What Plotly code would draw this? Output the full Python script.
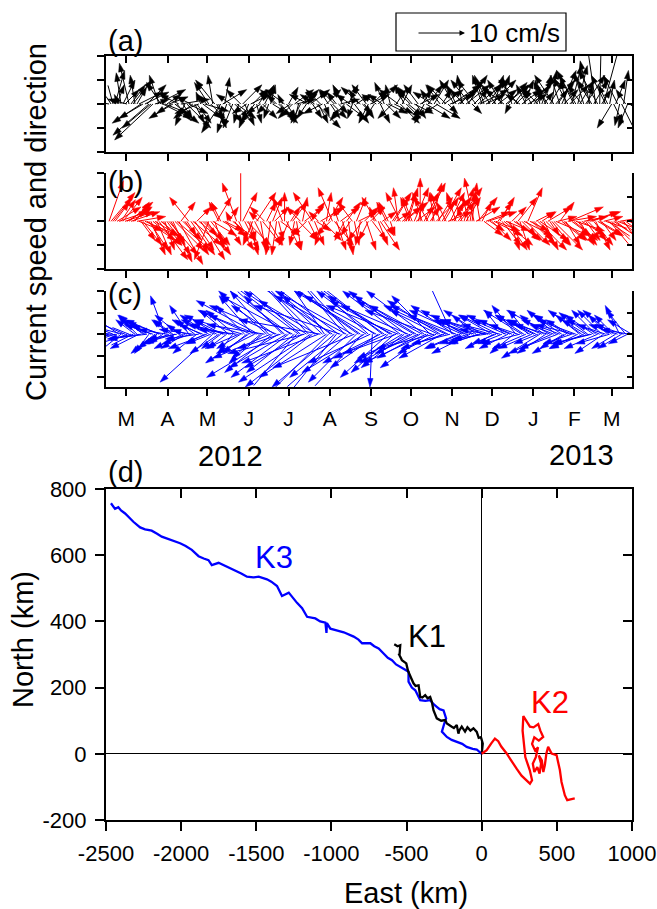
import datetime as dt
import plotly.graph_objects as go

W, H = 657, 909
FONT = "Liberation Sans, Arial, sans-serif"

# ------------------------------------------------------------------ data
MONTH_LABELS = ["M", "A", "M", "J", "J", "A", "S", "O", "N", "D", "J", "F", "M"]
MONTH_STARTS = [(2012, 3), (2012, 4), (2012, 5), (2012, 6), (2012, 7), (2012, 8),
                (2012, 9), (2012, 10), (2012, 11), (2012, 12), (2013, 1), (2013, 2),
                (2013, 3)]
YEAR_LABELS = ["2012", "2013"]
SERIES_START = dt.date(2012, 2, 17)   # first stick
STEP_DAYS = 3                          # main sticks every 3 days,
MID_OFFSET = 1.5                       # "_MID" sticks half-way between them

# K1 (a) velocity components, cm/s
K1_U = [-3, -1.5, 1.5, -1, 3,
        -2, 4, 2, -6, 5, -7.5, -8, 6, -3, 5,
        4, -5, 3, 6, -2, 4, -4, 3, -1, 5,
        -3, -1, 2, -4, 1, 3, -2, 4, -3, 2,
        -2, 3, 1, -3, 2, -1, 4, -2, 3, -4,
        2, -3, 4, -2, 3, -4, 2, 5, -3, 1, -2,
        3, -2, 4, -3, 2, -1, 3, -4, 2, -2,
        3, -3, 2, -2, 4, -3, 2, 4, -2, 3,
        -3, 2, 4, -2, 3, -4, 5, -3, 4, 2,
        6, -2, 5, -3, 4, 2, -4, 6, -2, 3,
        5, -3, 2, -4, 4, -2, 3, -3, 2, 4,
        -2, 3, -1, 2, -3, 1, 4, -2, 3, -3, 2,
        -4, 3, -2, 1, -3, -2.3, 0.4, 4.2, -2,
        -3, 2, -1, 1, -2, 3]
K1_V = [0.5, 5.5, 4, 6.5, 3,
        8.5, 5, 3.5, -4, 2.5, -6.5, -7.5, 3, 4.5, -2,
        1.5, -3, -3.5, 1, -4.5, -2, -3, -4, 2.5, -1.5,
        4.5, 6, -5, -6, 5.5, -4, -5, -3, 3, -4.5,
        -5, 3, -4, -2, 4, -3, -2.5, 2, -3.5, 3,
        3.5, -3, 1, -4, 3, 2, -3, -5, 3, -2.5, 3,
        -3, 2.5, 1, -3.5, 4, -3, 2, 3.5, -3, -4,
        3, 2, -4, 4.5, -2, -3, 3, -4, 4, -2.5,
        3.5, -3, 2, -4, 4, 2.5, -3, 4, 3, -2,
        4, 4, 5, 3, 6, -2, 5, 3, 6, 4.5,
        5, 4, 6, 3, 4.5, 5.5, 3, 2, 5, 2,
        3, 4, 5, 2.5, 4.5, 7, 5, 6, 3, 5.5, 8,
        7, 5, 6.5, 4, 5, 15.8, 16.8, 15.4, 4,
        -5, 5, -4.5, 7, -5, 0]
K1_U_MID = [-2, 2, -1, 2.5, -4,
            3, -1, 5, -5, 4, -6, 3, -2, 6, 3,
            -3, 5, -4, 2, 5, -3, 2, -5, 4, -2,
            3, -4, 1, 5, -2, -3, 3, -1, 4, -3,
            4, -3, 2, 3, -2, 1, -3, 4, -1, 2,
            -3, 4, -1, 3, -2, 4, -3, 2, -4, 3, 2,
            -3, 2, -2, 4, -3, 3, -2, 2, -3, 4,
            -2, 4, -3, 3, -1, 4, -4, 2, 3, -3,
            4, -3, 2, 5, -2, 3, -3, 2, -4, 5,
            -3, 4, -1, 5, -4, 3, 5, -2, 4, -3,
            2, 4, -3, 5, -1, 3, -4, 4, -2, 3,
            4, -3, 2, -2, 3, -4, 2, 3, -1, 4, -3,
            2, -3, 4, -2, 3, -4, 2, -3, 1,
            2, -3, 3, -2, 4]
K1_V_MID = [3, 7, 2, 5, 1,
            4, 6, 2.5, -3, 4, -5, 1, 6, -3, 2,
            -2, -4, 2, -3, -5, 1.5, -4, -2, -3, 2,
            -3, 5, -4, 3, -6, 2, -3, -4, 4, -2,
            2, -4, 3, -3, -2, 4, 3, -4, 2, -3,
            -2, 3, -4, 2, -3, 3, 2, -4, -2, 3, -3,
            3, -2, 4, -3, 2, -4, 3, -2, 4, 2,
            -3, 4, 2, -3, 4, -2, 3, 4, -3, 3,
            -2, 4, 3, -3, 3, 5, -2, 3, 4, 2,
            5, 3, 6, 4, 5, 3, 4, 6, 2, 5,
            6, 3, 5, 4, -2, 4, 5, 3, 4, 3,
            5, 3, 6, 4, 5, 6, 3, 7, 5, 4, 6,
            8, 4, 6, 9, 5, 7, 3, 6, 5,
            -4, 6, -6, 3, -3]

# K2 (b)
K2_U = [3, 4, 5, 3, 6,
        5, 4, 6, 3, 7, 4, 6, 3, 5, 2,
        6, 4, 7, 3, 5, -4, 6, 3, 5, 4,
        -3, 5, 3, -2, 4, 2, 5, -3, 0, 3,
        2, -2, 4, 1, -3, 3, 2, -1, 4, 0,
        -2, 3, 1, -3, 4, 2, -4, 3, 5, -2, 3,
        -3, 2, 4, -2, 1, -3, 2, -1, 3, -2,
        3, -3, 4, 2, -2, 4, 3, -3, 5, 2,
        -2, 4, 0, 3, -3, 2, 4, -2, 3, 5,
        4, -2, 3, 2, -1, 1, 5, -1, 4, 6,
        4, 5, 3, 6, 4, 3, 5, 2, 6, 3,
        5, 4, 6, 3, 5, 4, 7, 3, 5, 6, 4,
        6, 3, 5, 4, 6, 3, 5, 4, 6,
        5, 4, 6, 5, 7, 8]
K2_V = [8.5, 5, 3, 4.5, 2,
        4, 3, 1, -4, -3, -6, -5, -7, -4, -6,
        -7, -8.5, -6, 4, -7, 5, -5, 3, -8, -4,
        -8, -3, 5, 4, -2, 3, -4, 8, 12, -6,
        -7, -5, 6, -6, 3, -5, 5, -7, -3, 6,
        -5, 4, -6, 3, 3, -4, 6, -2, 3, -5, 5,
        7, -6, 3, -4, -7, 4, 5, -5, 3, -4,
        -4, 5, -6, -3, 4, 6, 2, 6, 4, 7,
        5, 3, 9, 6, 5, 8, 4, 6, 5, 2,
        5, 6, 4, 7, 5, 8, 3, 6, -3, 2,
        -4, -2, 5, -5, -6, 3, -4, -6, -3, 7,
        -5, 2, -4, -6, 3, -5, -3, 4, -4, 1, -3,
        -2, -5, 1, -4, 2, -6, -3, 1, -4,
        -5, -3, 1, -7, 0.5, -5]
K2_U_MID = [5, 3, 6, 4, 5,
            6, 3, 5, 4, 6, 3, 5, 6, 4, 5,
            3, 6, 5, 4, 2, 5, 4, 6, 3, 5,
            4, 2, -2, 5, 3, -1, 4, 2, 3, 5,
            1, 3, -2, 4, 2, -1, 3, 1, -2, 3,
            2, -1, 4, 1, -3, 3, 2, -2, 4, 1, -3,
            4, -1, 2, 3, -2, 1, 4, -3, 2, 3,
            -1, 2, 3, -2, 1, 3, -1, 4, 2, -2,
            3, 1, -2, 4, 2, -1, 3, 4, -2, 3,
            2, 5, -1, 3, 1, -2, 4, 2, 5, 3,
            6, 3, 4, 5, 2, 6, 4, 3, 5, 4,
            4, 6, 3, 5, 2, 6, 4, 5, 3, 7, 5,
            4, 5, 3, 6, 4, 5, 3, 6, 5,
            6, 5, 7, 4, 6]
K2_V_MID = [6, 4, 2, 5, 3,
            2, 4, -2, -5, -4, -7, -3, -8, -5, -7,
            -5, -6, -9, -4, -3, -7, -6, -5, -3, -7,
            -5, -6, 4, -3, -5, 2, -6, -4, 6, -5,
            -4, -6, 2, -5, 4, -7, 3, -4, 5, -6,
            3, -5, -4, 5, -3, 4, -5, 2, -4, 6, -3,
            -5, 3, -6, 4, -3, -5, 2, -4, -6, 3,
            3, -5, 2, 4, -3, 5, 7, 3, 6, 5,
            7, 4, 6, 8, 3, 6, 5, 7, 4, 6,
            4, 7, 3, 5, 6, 9, 5, 4, 2, -2,
            -3, 4, -5, -2, -6, -4, 5, -3, -5, -2,
            -4, -6, 2, -5, -3, -6, 1, -4, -5, 3, -4,
            -5, -3, -4, 2, -5, -3, -4, -2, -6,
            -4, -2, -6, -3, -4]

# K3 (c)
K3_U = [-10, -6, -8, -5, -7,
        -5, -6, -4, -7, -5, -3, -6, -4, -7, -3,
        -5, -4, -6, -3, -5, -4, -7, -5, -6, -4,
        -6, -11, -5, -4, -7, -6, -3, -8, -5, -6,
        -9, -7, -10, -6, -12, -8, -10, -14, -9, -11,
        -12, -15, -10, -13, -16, -11, -14, -12, -17, -9, -13,
        -15, -12, -18, -11, -14, -16, -10, -17, -13, -12,
        -0.5, -15, -12, -14, -10, -13, -11, -12, -9, -14,
        -11, -13, -9, -12, -10, -14, -8, -11, -9, -12,
        -5, -10, -7, -9, -6, -8, -5, -7, -9, -6,
        -7, -5, -8, -4, -6, -7, -5, -8, -6, -4,
        -7, -6, -8, -5, -7, -9, -6, -8, -5, -7, -6,
        -8, -5, -7, -6, -8, -5, -7, -6, -4,
        -6, -5, -3, -6, -4, -5]
K3_V = [-2, 2.5, -1, -4, 3,
        2, -3, 4, -1, 3, -4, 2, -3, 2.5, 8,
        -2, 3, -1, 2, -3, 6, 1, -4, 3, -2,
        4, -10, 3, -3, 2, 5, -4, 1, -3, 6,
        -6, 8, 4, -5, 2, 9, -8, 6, -3, 10,
        -9, 8, -12, 11, -4, 12, -11, 7, 3, 13, -13,
        10, -15, 6, 13, -12, 9, -10, 12, -8, 11,
        -11, 8, -6, 10, -9, 7, -4, 9, -7, 6,
        -6, 8, -5, 9, -7, 5, -4, 7, -3, 6,
        11, 4, -3, 5, -2, 3, 4, -2, 3, 1,
        4, -2, 2, 5, -3, 3, 6, -2, 4, 5,
        -3, 3, -5, 4, 2, -4, 5, 3, -3, 4, -2,
        3, 4, -3, 4.5, -2, 5, 3, -4, 4,
        5, -3, 6, 2, -2, 3]
K3_U_MID = [-7, -9, -6, -8, -5,
            -7, -4, -6, -5, -8, -4, -5, -7, -3, -6,
            -4, -7, -5, -6, -3, -6, -4, -7, -5, -8,
            -5, -7, -6, -8, -4, -9, -6, -7, -10, -5,
            -11, -8, -13, -7, -10, -12, -9, -15, -8, -12,
            -14, -10, -16, -12, -13, -15, -11, -16, -13, -14, -10,
            -13, -16, -11, -15, -12, -17, -14, -11, -15, -13,
            -12, -10, -14, -11, -13, -9, -15, -10, -12, -11,
            -12, -9, -11, -13, -8, -12, -10, -9, -13, -8,
            -9, -7, -11, -6, -8, -9, -6, -8, -7, -10,
            -6, -8, -5, -7, -9, -5, -6, -8, -7, -5,
            -8, -5, -7, -6, -9, -5, -8, -6, -7, -5, -8,
            -6, -7, -5, -8, -6, -7, -5, -6, -7,
            -4, -6, -5, -4, -6]
K3_V_MID = [1, -3, 4, 2, -2,
            -2, 3, -3, 4, -1, 2, -4, 3, -2, 1,
            3, -2, 4, -3, 1, -2, 3, -1, 2, -3,
            -2, 3, -4, 4, -3, 2, 5, -3, 3, -4,
            5, -4, 7, -6, 9, -5, 6, -9, 8, -7,
            10, -8, 12, -7, 9, -10, 11, -6, 12, -9, 8,
            -11, 12, -9, 8, 13, -7, 10, -12, 9, -6,
            9, -7, 11, -5, 8, -8, 6, -6, 9, -5,
            7, -4, 6, -6, 8, -3, 5, -5, 6, -2,
            6, -3, 5, 3, -4, 4, -2, 5, -1, 3,
            -3, 4, -2, 3, 4, -4, 2, 5, -3, 3,
            4, -2, 3, -4, 5, 2, -3, 4, -4, 3, 2,
            -3, 5, 3, -2, 4, -3, 5, 2, -2,
            4, 2, -3, 5, 1]

# progressive vector diagrams (km)
K1_EAST = [0, 7, -5, -20, -33, -55, -75, -95, -111, -125,
           -133, -150, -155, -166, -185, -199, -215, -232, -243, -270,
           -299, -310, -321, -332, -343, -360, -376, -395, -409, -420,
           -440, -454, -476, -490, -502, -520, -531, -553, -547, -542,
           -560, -582]
K1_NORTH = [0, 31, 50, 48, 66, 77, 70, 80, 67, 78,
            82, 70, 61, 87, 78, 82, 88, 92, 102, 100,
            107, 120, 132, 157, 172, 168, 177, 170, 172, 207,
            205, 213, 233, 250, 273, 278, 283, 303, 298, 328,
            325, 331]
K2_EAST = [0, 33, 66, 88, 110, 130, 166, 199, 232, 265,
           299, 321, 335, 320, 290, 280, 272, 277, 300, 321,
           345, 376, 390, 409, 380, 350, 335, 355, 375, 360,
           340, 350, 370, 385, 395, 380, 400, 410, 420, 430,
           442, 465, 498, 520, 531, 553, 569, 619]
K2_NORTH = [0, 11, 33, 46, 38, 22, 1, -24, -45, -66,
            -80, -90, -80, -50, -10, 30, 70, 114, 95, 82,
            80, 90, 70, 51, 40, 50, 30, 10, 20, -10,
            -30, -55, -40, -60, -30, -5, -20, -55, -35, 0,
            21, 1, -4, -49, -85, -125, -140, -135]
K3_EAST = [0, -33, -60, -100, -130, -166, -200, -232, -265, -250,
           -237, -254, -280, -299, -320, -343, -375, -409, -442, -465,
           -487, -487, -515, -542, -570, -597, -625, -653, -686, -715,
           -741, -796, -820, -852, -885, -918, -960, -1007, -1030, -1033,
           -1040, -1075, -1107, -1162, -1195, -1229, -1284, -1310, -1329, -1362,
           -1400, -1429, -1484, -1520, -1562, -1600, -1640, -1696, -1751, -1796,
           -1818, -1850, -1884, -1929, -1970, -2007, -2051, -2090, -2129, -2160,
           -2196, -2240, -2273, -2318, -2351, -2373, -2400, -2418, -2440, -2467]
K3_NORTH = [0, 13, 15, 21, 30, 36, 42, 51, 67, 90,
            107, 131, 135, 142, 150, 162, 160, 162, 192, 200,
            218, 248, 255, 263, 270, 283, 290, 303, 318, 325,
            334, 334, 345, 354, 360, 367, 372, 378, 395, 365,
            396, 400, 409, 414, 440, 456, 487, 482, 477, 507,
            520, 527, 535, 533, 535, 545, 553, 565, 577, 570,
            585, 590, 597, 616, 628, 636, 643, 650, 656, 665,
            674, 678, 684, 701, 718, 726, 735, 745, 740, 757]

PVD_X_TICKS = [-2500, -2000, -1500, -1000, -500, 0, 500, 1000]
PVD_Y_TICKS = [-200, 0, 200, 400, 600, 800]

# ------------------------------------------------------------------ layout helpers
REF = dt.date(2012, 1, 1)


def dnum(d):
    return (d - REF).days


def pxx(px):
    return px / W


def pxy(py):
    return 1 - py / H


PLOT_L, PLOT_R = 106, 632
XMIN, XMAX = 44.7, 440.3              # day numbers (2012-02-14 .. 2013-03-16)
PX_PER_CMS = 4.8
DAYS_PER_CMS = PX_PER_CMS / ((PLOT_R - PLOT_L) / (XMAX - XMIN))
HEAD = 9

MONTH_DAYS = [dnum(dt.date(y, m, 1)) for y, m in MONTH_STARTS]
T0 = dnum(SERIES_START)
TIMES = [T0 + STEP_DAYS * k for k in range(len(K1_U))]
TIMES_MID = [T0 + STEP_DAYS * k + MID_OFFSET for k in range(len(K1_U_MID))]
XDOM = [pxx(PLOT_L), pxx(PLOT_R)]

panels = [
    dict(ax="", top=56, bot=152, yr=[-10, 10], tv=[-10, -5, 0, 5, 10],
         color="#000000", u=K1_U, v=K1_V, um=K1_U_MID, vm=K1_V_MID, right="5"),
    dict(ax="2", top=173.3, bot=269.3, yr=[-10, 10], tv=[-10, -5, 0, 5, 10],
         color="#FF0000", u=K2_U, v=K2_V, um=K2_U_MID, vm=K2_V_MID, right="6"),
    dict(ax="3", top=291, bot=387, yr=[-11, 9], tv=[-9, -4.5, 0, 4.5, 9],
         color="#0000FF", u=K3_U, v=K3_V, um=K3_U_MID, vm=K3_V_MID, right="7"),
]

base = dict(showgrid=False, zeroline=False, showline=True, linecolor="black",
            linewidth=2, ticks="outside", tickcolor="black", tickwidth=1.5,
            ticklen=7, automargin=False)

fig = go.Figure()
layout = dict(width=W, height=H, margin=dict(l=0, r=0, t=0, b=0, pad=0),
              paper_bgcolor="white", plot_bgcolor="white", showlegend=False,
              font=dict(family=FONT, color="black"), autosize=False,
              template="none")

for i, p in enumerate(panels):
    recs = sorted(list(zip(TIMES, p["u"], p["v"])) +
                  list(zip(TIMES_MID, p["um"], p["vm"])))
    xs, ys, sz = [], [], []
    for t, uu, vv in recs:
        xs += [t, t + uu * DAYS_PER_CMS, None]
        ys += [0, vv, None]
        sz += [0, HEAD, 0]
    xa, ya = "x" + p["ax"], "y" + p["ax"]
    fig.add_trace(go.Scatter(
        x=xs, y=ys, mode="lines+markers", xaxis=xa, yaxis=ya, opacity=1,
        line=dict(color=p["color"], width=1),
        marker=dict(symbol="arrow", angleref="previous", size=sz, opacity=1,
                    color=p["color"], line=dict(width=0.5, color=p["color"])),
        cliponaxis=False, hoverinfo="skip"))
    ydom = [pxy(p["bot"]), pxy(p["top"])]
    layout["xaxis" + p["ax"]] = dict(
        base, domain=XDOM, anchor=ya, range=[XMIN, XMAX], tickmode="array",
        tickvals=MONTH_DAYS, ticktext=MONTH_LABELS,
        showticklabels=(i == 2), tickfont=dict(size=21), ticklabelstandoff=5)
    layout["yaxis" + p["ax"]] = dict(
        base, domain=ydom, anchor=xa, range=p["yr"], tickmode="array",
        tickvals=p["tv"], showticklabels=False)
    # right-hand axis with inward ticks
    r = p["right"]
    layout["yaxis" + r] = dict(
        base, overlaying=ya, side="right", anchor=xa, range=p["yr"],
        tickmode="array", tickvals=p["tv"], ticks="inside", ticklen=5,
        showticklabels=False)
    top_axis = xa
    if i == 0:
        layout["xaxis5"] = dict(
            base, overlaying="x", side="top", anchor="y", range=[XMIN, XMAX],
            tickmode="array", tickvals=MONTH_DAYS, ticks="inside",
            showticklabels=False)
        top_axis = "x5"
    fig.add_trace(go.Scatter(x=[None], y=[None], xaxis=top_axis,
                             yaxis="y" + r, hoverinfo="skip"))

# ------------------------------------------------------------------ panel (d)
for ex, no, col in [(K3_EAST, K3_NORTH, "#0000FF"),
                    (K1_EAST, K1_NORTH, "#000000"),
                    (K2_EAST, K2_NORTH, "#FF0000")]:
    fig.add_trace(go.Scatter(x=ex, y=no, mode="lines", xaxis="x4", yaxis="y4",
                             line=dict(color=col, width=2.3), hoverinfo="skip"))
fig.add_trace(go.Scatter(x=[None], y=[None], xaxis="x8", yaxis="y8",
                         hoverinfo="skip"))

DDOM_Y = [pxy(820), pxy(489)]
dbase = dict(base, ticklen=9, tickfont=dict(size=22), ticklabelstandoff=4)
layout["xaxis4"] = dict(dbase, domain=XDOM, anchor="y4", range=[-2500, 1000],
                        tickmode="array", tickvals=PVD_X_TICKS,
                        ticktext=[str(v) for v in PVD_X_TICKS],
                        zeroline=True, zerolinecolor="black", zerolinewidth=1)
layout["yaxis4"] = dict(dbase, domain=DDOM_Y, anchor="x4", range=[-200, 800],
                        tickmode="array", tickvals=PVD_Y_TICKS,
                        ticktext=[str(v) for v in PVD_Y_TICKS],
                        zeroline=True, zerolinecolor="black", zerolinewidth=1)
layout["xaxis8"] = dict(base, overlaying="x4", side="top", anchor="y4",
                        range=[-2500, 1000], tickmode="array",
                        tickvals=PVD_X_TICKS, ticks="inside", ticklen=9,
                        showticklabels=False)
layout["yaxis8"] = dict(base, overlaying="y4", side="right", anchor="x4",
                        range=[-200, 800], tickmode="array",
                        tickvals=PVD_Y_TICKS, ticks="inside", ticklen=9,
                        showticklabels=False)

# ------------------------------------------------------------------ text
def label(text, x, y, size, color="black", angle=0):
    return dict(text=text, x=pxx(x), y=pxy(y), xref="paper", yref="paper",
                showarrow=False, xanchor="center", yanchor="middle",
                textangle=angle, font=dict(size=size, color=color, family=FONT))


ann = [
    label("Current speed and direction", 36, 222, 29, angle=-90),
    label("(a)", 125, 41, 29), label("(b)", 125, 182, 29),
    label("(c)", 125, 294, 29), label("(d)", 125, 472, 29),
    label(YEAR_LABELS[0], 230, 456, 29), label(YEAR_LABELS[1], 581, 455, 29),
    label("North (km)", 23, 640, 29, angle=-90),
    label("East (km)", 406, 893, 29),
    label("K3", 274, 557, 31, "#0000FF"),
    label("K1", 427, 636, 31, "#000000"),
    label("K2", 550, 702, 31, "#FF0000"),
    label("10 cm/s", 514, 33, 26),
    dict(text="", x=pxx(417 + 10 * PX_PER_CMS), y=pxy(33), xref="paper",
         yref="paper", showarrow=True, ax=-10 * PX_PER_CMS, ay=0,
         arrowhead=2, arrowsize=1.1, arrowwidth=1, arrowcolor="black"),
]
layout["annotations"] = ann
layout["shapes"] = [dict(type="rect", xref="paper", yref="paper",
                         x0=pxx(396), x1=pxx(566), y0=pxy(51), y1=pxy(13),
                         line=dict(color="black", width=1.2))]

fig.update_layout(**layout)
fig.write_html("out.html")
